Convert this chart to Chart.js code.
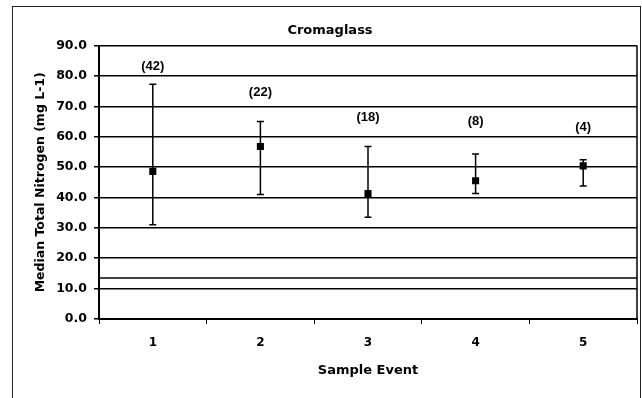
<!DOCTYPE html>
<html>
<head>
<meta charset="utf-8">
<script src="https://cdn.jsdelivr.net/npm/chart.js@4.4.1/dist/chart.umd.min.js"></script>
<style>
  html, body { margin: 0; padding: 0; background: #fff; }
  #wrap { width: 642px; height: 398px; }
</style>
</head>
<body>
<div id="wrap"><canvas id="myChart" width="642" height="398"></canvas></div>
<script>
const events = ["1", "2", "3", "4", "5"];
const medians = [48.6, 56.8, 41.3, 45.5, 50.4];
const upper = [77.3, 65.0, 56.8, 54.3, 52.4];
const lower = [31.0, 41.0, 33.5, 41.3, 43.8];
const counts = ["(42)", "(22)", "(18)", "(8)", "(4)"];
const countPos = [83.3, 74.6, 66.3, 65.0, 63.0];
const refLine = 13.5;

const font = "'DejaVu Sans', Verdana, sans-serif";

const extras = {
  id: "extras",
  beforeDraw(chart) {
    const c = chart.ctx;
    c.save();
    c.strokeStyle = "#222";
    c.lineWidth = 1;
    c.strokeRect(12.5, 6.5, 628, 420);
    c.restore();
  },
  beforeDatasetsDraw(chart) {
    const c = chart.ctx;
    const a = chart.chartArea;
    const y = chart.scales.y.getPixelForValue(refLine);
    c.save();
    c.strokeStyle = "#000";
    c.lineWidth = 1.5;
    c.beginPath();
    c.moveTo(a.left, y);
    c.lineTo(a.right, y);
    c.stroke();
    // right edge of the plot
    c.beginPath();
    c.moveTo(a.right, a.top);
    c.lineTo(a.right, a.bottom);
    c.stroke();
    c.restore();
  },
  afterDatasetsDraw(chart) {
    const c = chart.ctx;
    const xs = chart.scales.x;
    const ys = chart.scales.y;
    c.save();
    c.strokeStyle = "#000";
    c.fillStyle = "#000";
    c.lineWidth = 1.5;
    events.forEach((e, i) => {
      const x = xs.getPixelForValue(i);
      const yHi = ys.getPixelForValue(upper[i]);
      const yLo = ys.getPixelForValue(lower[i]);
      c.beginPath();
      c.moveTo(x, yHi);
      c.lineTo(x, yLo);
      c.moveTo(x - 3.5, yHi);
      c.lineTo(x + 3.5, yHi);
      c.moveTo(x - 3.5, yLo);
      c.lineTo(x + 3.5, yLo);
      c.stroke();
      c.font = "bold 13px 'Liberation Sans', Arial, sans-serif";
      c.textAlign = "center";
      c.textBaseline = "middle";
      c.fillText(counts[i], x, ys.getPixelForValue(countPos[i]));
    });
    c.restore();
  }
};

new Chart(document.getElementById("myChart"), {
  type: "line",
  data: {
    labels: events,
    datasets: [
      {
        label: "Median",
        data: medians,
        showLine: false,
        pointStyle: "rect",
        pointRadius: 5,
        pointHoverRadius: 5,
        backgroundColor: "#000",
        borderColor: "#000",
        borderWidth: 0,
      },
    ],
  },
  options: {
    responsive: false,
    animation: false,
    layout: { padding: { left: 22, right: 4, top: 6, bottom: 0 } },
    plugins: {
      legend: { display: false },
      tooltip: { enabled: false },
      title: {
        display: true,
        text: "Cromaglass",
        color: "#000",
        font: { family: font, size: 13, weight: "bold" },
        padding: { top: 17, bottom: 7 },
      },
    },
    scales: {
      x: {
        type: "category",
        offset: true,
        grid: {
          offset: true,
          drawOnChartArea: false,
          drawTicks: true,
          tickLength: 5,
          color: "#000",
          lineWidth: 1,
        },
        border: { display: true, color: "#000", width: 2 },
        ticks: {
          color: "#000",
          padding: 12,
          font: { family: font, size: 12, weight: "bold" },
        },
        title: {
          display: true,
          text: "Sample Event",
          color: "#000",
          font: { family: font, size: 13, weight: "bold" },
          padding: { top: 4, bottom: 20 },
        },
        afterFit(scale) {
          scale.height = 79;
        },
      },
      y: {
        min: 0,
        max: 90,
        grid: {
          color: "#000",
          lineWidth: 1.5,
          tickLength: 5,
        },
        border: { display: true, color: "#000", width: 2 },
        ticks: {
          stepSize: 10,
          color: "#000",
          padding: 7,
          font: { family: font, size: 12.5, weight: "bold" },
          callback: (v) => v.toFixed(1),
        },
        title: {
          display: true,
          text: "Median Total Nitrogen (mg L-1)",
          color: "#000",
          font: { family: font, size: 12.5, weight: "bold" },
          padding: { top: 11, bottom: 4 },
        },
        afterFit(scale) {
          scale.width = 77;
        },
      },
    },
  },
  plugins: [extras],
});
</script>
</body>
</html>
